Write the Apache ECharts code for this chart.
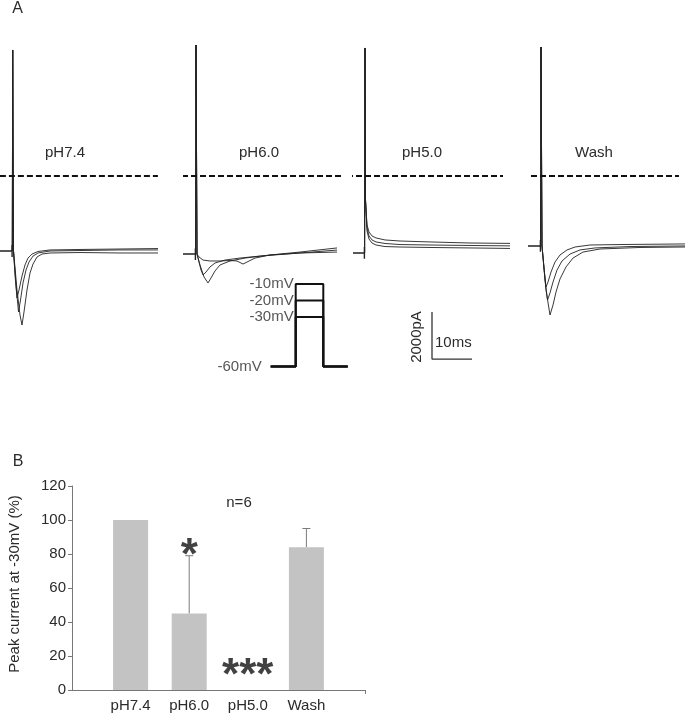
<!DOCTYPE html>
<html><head><meta charset="utf-8">
<script src="https://cdn.jsdelivr.net/npm/echarts@6/dist/echarts.min.js"></script>
<style>html,body{margin:0;padding:0;background:#fff}#c{width:685px;height:714px}</style>
</head><body><div id="c"></div>
<script>
// ================= DATA =================
// Panel A: current traces, time (ms, 0 = step onset) vs current (pA)
const panelNames = ['pH7.4', 'pH6.0', 'pH5.0', 'Wash'];
const holdingCurrent = [0, -128, -85, 213];      // pA, pre-step level
const transientPeak = [8553, 8765, 8638, 8680];  // pA, capacitive transient top
const preStepStart = [-3.2, -3.25, -3.0, -3.25]; // ms
const tracesPH74 = [
  [[0.2,0],[0.575,-1020],[1.075,-2000],[1.575,-1660],[2.325,-1065],[3.075,-595],[3.825,-300],[4.825,-130],[6.325,-20],[9.325,45],[16.825,65],[26.825,85],[36.825,105]],
  [[0.2,0],[0.825,-1450],[1.45,-2595],[1.95,-2085],[2.575,-1360],[3.325,-810],[4.075,-470],[5.075,-215],[6.325,-85],[9.325,0],[16.825,20],[26.825,45],[36.825,45]],
  [[0.2,0],[1.075,-1660],[1.825,-2725],[2.325,-3150],[2.825,-2595],[3.575,-1660],[4.325,-935],[5.075,-555],[6.075,-255],[7.325,-130],[9.325,-85],[16.825,-65],[26.825,-85],[36.825,-85]]
];
const tracesPH60 = [
  [[0.25,-130],[0.75,-470],[1.25,-810],[1.75,-1020],[2.5,-895],[3.5,-680],[4.75,-510],[7.25,-385],[11,-300],[16,-215],[26,-85],[35.25,40]],
  [[0.25,-130],[1,-595],[2,-1105],[3,-1360],[3.75,-1150],[4.75,-850],[6,-595],[8.5,-425],[12.25,-300],[18.5,-170],[26,-85],[35.25,-45]],
  [[0.25,-130],[0.75,-255],[1.75,-385],[3.5,-425],[6,-425],[8.5,-405],[10.25,-425],[11.75,-555],[12.75,-470],[14.75,-300],[18.5,-170],[26,-45],[35.25,130]]
];
const tracesPH50 = [
  [[0.125,2170],[0.5,1105],[1,810],[1.75,640],[2.75,555],[5,470],[8.75,425],[16.25,385],[26.25,340],[38,320]],
  [[0.125,2170],[0.5,980],[1,640],[1.75,470],[2.75,385],[5,320],[8.75,275],[16.25,255],[26.25,235],[38,215]],
  [[0.125,2170],[0.5,850],[1,510],[1.75,340],[2.75,255],[5,190],[8.75,170],[16.25,150],[26.25,130],[38,105]]
];
const tracesWash = [
  [[0.25,213],[0.75,-725],[1.25,-1530],[1.75,-1320],[2.5,-895],[3.5,-470],[4.75,-170],[6.5,45],[8.5,170],[12.25,255],[19.75,275],[36,300]],
  [[0.25,213],[1,-1235],[1.625,-2085],[2.25,-1785],[3,-1320],[4,-810],[5.25,-425],[7.25,-130],[9.75,45],[13.5,130],[22.25,190],[36,215]],
  [[0.25,213],[1.25,-1660],[2.25,-2725],[3,-2300],[3.75,-1745],[4.75,-1190],[6.25,-680],[8,-300],[10.5,-45],[14.75,85],[24.75,150],[36,170]]
];
const allTraces = [tracesPH74, tracesPH60, tracesPH50, tracesWash];
const referenceLevel = 3190;                                  // pA, dashed line
const referenceSpan = [[-3.2,36.3],[-3.5,36.75],[-4.5,34.5],[-4.75,34.5]]; // ms
const scaleBarTime = [16.75, 26.75];   // 10 ms
const scaleBarCurrent = [-2600, -4600]; // 2000 pA

// Voltage protocol
const stepVoltages = [-10, -20, -30];  // mV
const holdingVoltage = -60;            // mV
const protocolTimes = [0, 6.25, 13.15, 19.25]; // ms

// Panel B: bar chart
const categories = ['pH7.4', 'pH6.0', 'pH5.0', 'Wash'];
const peakCurrent = [100, 45, 0, 84];
const errorTop = [null, 79, null, 95];
const sigMarks = ['', '*', '***', ''];
const sigLevel = [null, 85, 14, null];
const yTickMin = 0, yTickMax = 120, yTickStep = 20;

// ================= LAYOUT =================
const FONT = '"Liberation Sans", Arial, Helvetica, sans-serif';
const TXT = '#2b2b2b';
const PX_PER_MS = 4, PA_PER_PX = 42.55, BASE_Y = 251;
const T_MIN = -3, T_MAX = 36, I_MIN = -5000, I_MAX = 9000;
const spikeX = [12.7, 196, 365, 541];

const grids = [], xAxes = [], yAxes = [], series = [];
spikeX.forEach((sx, i) => {
  grids.push({left: sx + T_MIN * PX_PER_MS, top: BASE_Y - I_MAX / PA_PER_PX,
              width: (T_MAX - T_MIN) * PX_PER_MS, height: (I_MAX - I_MIN) / PA_PER_PX});
  xAxes.push({type: 'value', gridIndex: i, min: T_MIN, max: T_MAX, show: false});
  yAxes.push({type: 'value', gridIndex: i, min: I_MIN, max: I_MAX, show: false});
  const base = holdingCurrent[i];
  series.push({type: 'line', xAxisIndex: i, yAxisIndex: i, clip: false, symbol: 'none', silent: true,
    lineStyle: {color: '#222', width: 1.4},
    data: [[preStepStart[i], base], [-0.15, base], [-0.15, base + 250], [-0.15, base - 250]]});
  allTraces[i].forEach(tr => {
    series.push({type: 'line', xAxisIndex: i, yAxisIndex: i, clip: false, symbol: 'none', silent: true,
      lineStyle: {color: '#222', width: 0.9},
      data: [[-0.1, base], [0, transientPeak[i]]].concat(tr)});
  });
  series.push({type: 'line', xAxisIndex: i, yAxisIndex: i, clip: false, symbol: 'none', silent: true,
    lineStyle: {color: '#111', width: 2, type: [6, 3]},
    data: [[referenceSpan[i][0], referenceLevel], [referenceSpan[i][1], referenceLevel]]});
});
series.push({type: 'line', xAxisIndex: 2, yAxisIndex: 2, clip: false, symbol: 'none', silent: true,
  lineStyle: {color: '#333', width: 1.3},
  data: [[scaleBarTime[0], scaleBarCurrent[0]], [scaleBarTime[0], scaleBarCurrent[1]], [scaleBarTime[1], scaleBarCurrent[1]]]});

// protocol grid (index 4)
const V_MIN = -65, V_MAX = -5, PX_PER_MV = 1.65, V60_Y = 366.6;
grids.push({left: 270.7, top: V60_Y - (V_MAX - holdingVoltage) * PX_PER_MV,
            width: 20 * PX_PER_MS, height: (V_MAX - V_MIN) * PX_PER_MV});
xAxes.push({type: 'value', gridIndex: 4, min: 0, max: 20, show: false});
yAxes.push({type: 'value', gridIndex: 4, min: V_MIN, max: V_MAX, show: false});
stepVoltages.forEach(v => {
  const [t0, t1, t2, t3] = protocolTimes;
  series.push({type: 'line', xAxisIndex: 4, yAxisIndex: 4, clip: false, symbol: 'none', silent: true,
    lineStyle: {color: '#111', width: 2},
    data: [[t0, holdingVoltage], [t1, holdingVoltage], [t1, v], [t2, v], [t2, holdingVoltage], [t3, holdingVoltage]]});
});
series.push({type: 'scatter', xAxisIndex: 4, yAxisIndex: 4, symbolSize: 0, silent: true,
  data: stepVoltages.map(v => ({value: [protocolTimes[1], v], label: {distance: 2}}))
        .concat([{value: [protocolTimes[0], holdingVoltage], label: {distance: 9}}]),
  label: {show: true, position: 'left', color: TXT, fontFamily: FONT, fontSize: 15,
          formatter: p => p.value[1] + 'mV'}});

// bar grid (index 5)
grids.push({left: 72, top: 486, width: 293, height: 204});
const paddedCats = [''].concat(categories, ['']);
xAxes.push({type: 'category', gridIndex: 5, data: paddedCats, boundaryGap: false,
  axisLine: {lineStyle: {color: '#777', width: 1}},
  axisTick: {show: true, length: 4, interval: (idx) => idx === paddedCats.length - 1, lineStyle: {color: '#777'}},
  axisLabel: {color: TXT, fontFamily: FONT, fontSize: 15, margin: 8, interval: 0}});
yAxes.push({type: 'value', gridIndex: 5, min: yTickMin, max: yTickMax, interval: yTickStep,
  name: 'Peak current at -30mV (%)', nameLocation: 'middle', nameGap: 50, nameRotate: 90,
  nameTextStyle: {color: TXT, fontFamily: FONT, fontSize: 15, padding: [0, 0, 0, 8]},
  axisLine: {show: true, lineStyle: {color: '#777', width: 1}},
  axisTick: {show: true, length: 4, lineStyle: {color: '#777'}},
  splitLine: {show: false},
  axisLabel: {color: TXT, fontFamily: FONT, fontSize: 15, margin: 6}});
series.push({type: 'bar', xAxisIndex: 5, yAxisIndex: 5, barWidth: 35, silent: true,
  itemStyle: {color: '#c3c3c3'},
  data: [null].concat(peakCurrent, [null])});
series.push({type: 'custom', xAxisIndex: 5, yAxisIndex: 5, silent: true,
  data: categories.map((c, k) => errorTop[k] == null ? null : [k + 1, peakCurrent[k], errorTop[k]]).filter(d => d),
  encode: {x: 0, y: [1, 2]},
  renderItem: (params, api) => {
    const lo = api.coord([api.value(0), api.value(1)]);
    const hi = api.coord([api.value(0), api.value(2)]);
    const st = {stroke: '#7a7a7a', lineWidth: 1};
    return {type: 'group', children: [
      {type: 'line', shape: {x1: lo[0], y1: lo[1], x2: hi[0], y2: hi[1]}, style: st},
      {type: 'line', shape: {x1: hi[0] - 4, y1: hi[1], x2: hi[0] + 4, y2: hi[1]}, style: st}
    ]};
  }});
series.push({type: 'scatter', xAxisIndex: 5, yAxisIndex: 5, symbolSize: 0, silent: true,
  data: categories.map((c, k) => sigLevel[k] == null ? null : [k + 1, sigLevel[k], sigMarks[k]]).filter(d => d),
  label: {show: true, position: 'inside', offset: [0, 11], color: '#111', fontFamily: FONT, fontSize: 44, fontWeight: 'bold',
          formatter: p => p.value[2]}});

const txt = (text, x, y, extra) => Object.assign({type: 'text', x, y,
  style: Object.assign({text, font: '15px ' + FONT, fill: TXT, align: 'center', verticalAlign: 'middle'}, extra || {})});
const graphics = [
  txt('A', 17.5, 9, {font: '16px ' + FONT}),
  txt('B', 18, 462, {font: '16px ' + FONT}),
  txt('n=6', 239, 503),
  txt('10ms', 435, 343, {align: 'left'}),
  Object.assign(txt('2000pA', 417, 337), {rotation: Math.PI / 2})
];
const labelX = [65, 259, 422, 594];
panelNames.forEach((n, i) => graphics.push(txt(n, labelX[i], 153)));

const chart = echarts.init(document.getElementById('c'), null, {renderer: 'canvas'});
chart.setOption({animation: false, backgroundColor: '#fff', grid: grids, xAxis: xAxes, yAxis: yAxes,
  series, graphic: graphics});
</script></body></html>
